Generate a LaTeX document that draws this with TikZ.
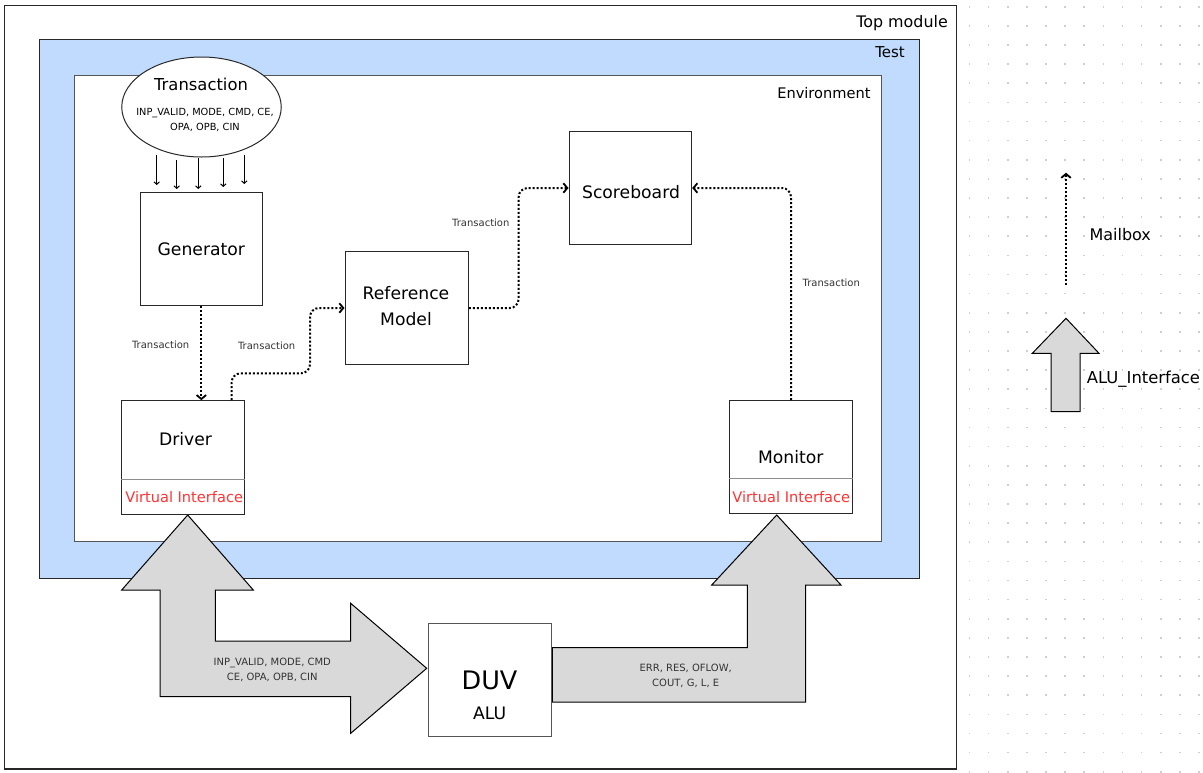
\documentclass[tikz,border=0pt]{standalone}
\usepackage{fontspec}
\setmainfont{DejaVu Sans}
\usetikzlibrary{shapes.geometric,arrows.meta,calc}
\definecolor{testblue}{RGB}{192,219,253}
\definecolor{arrowgray}{RGB}{217,217,217}
\definecolor{boxline}{RGB}{40,40,40}
\definecolor{envline}{RGB}{85,85,85}
\definecolor{labelgray}{RGB}{51,51,51}
\definecolor{vired}{RGB}{255,51,51}
\definecolor{griddot}{RGB}{205,205,220}
\definecolor{divline}{RGB}{140,140,140}
\begin{document}
\begin{tikzpicture}[x=1pt,y=-1pt,
  blockbox/.style={draw=boxline, line width=1pt, fill=white, inner sep=0pt},
  lbl/.style={inner sep=0pt, text=black},
  blocktxt/.style={lbl, font=\fontsize{17.2}{26.5}\selectfont, align=center},
  smalltxt/.style={inner sep=0pt, text=labelgray, font=\fontsize{10}{14.6}\selectfont, align=center},
  vitxt/.style={inner sep=0pt, text=vired, font=\fontsize{14.6}{17}\selectfont},
  mbox/.style={line width=2pt, dash pattern=on 2pt off 2pt, rounded corners=9pt,
     -{Straight Barb[length=4pt,width=9.5pt,line width=1.8pt]}},
  smallarr/.style={line width=1pt, draw=black, -{Straight Barb[length=2.5pt,width=5.5pt]}},
  bigarrow/.style={draw=black, line width=1pt, fill=arrowgray, line join=miter}
]
\useasboundingbox (0,0) rectangle (1203,772);

% background grid
\foreach \i in {0,...,12}{\foreach \j in {0,...,40}{
  \fill[griddot] ({969.5+\i*19.125-0.8},{6.7+\j*19.125-0.8}) rectangle ++(1.6,1.6);}}

% containers
\draw[draw=boxline, line width=1.2pt, fill=white] (4.7,5.3) rectangle (956.7,769);
\draw[draw=boxline, line width=1pt, fill=testblue] (39,39) rectangle (919,578);
\draw[draw=envline, line width=1pt, fill=white] (74,75) rectangle (881.7,541.7);

\node[lbl, anchor=base east, font=\fontsize{15.9}{19}\selectfont] (ltop) at (948,27.7) {Top module};
\node[lbl, anchor=east, font=\fontsize{15}{18}\selectfont] (ltest) at (905,51.7) {Test};
\node[lbl, anchor=east, font=\fontsize{14.6}{18}\selectfont] (lenv) at (870.7,93) {Environment};

% big interface arrows
\draw[bigarrow] (187.7,515) -- (253.3,590) -- (215.3,590) -- (215.3,641) -- (350.7,641)
  -- (350.7,603.3) -- (426.7,668.3) -- (350.7,733.3) -- (350.7,696.7) -- (160,696.7)
  -- (160,590) -- (121.7,590) -- cycle;
\draw[bigarrow] (776.7,515) -- (841,585) -- (805.7,585) -- (805.7,702) -- (552.3,702)
  -- (552.3,647.7) -- (747.3,647.7) -- (747.3,585) -- (711.7,585) -- cycle;
\node[smalltxt] (linp) at (272.3,670) {INP\_VALID, MODE, CMD\\CE, OPA, OPB, CIN};
\node[smalltxt] (lout) at (685.7,675.8) {ERR, RES, OFLOW,\\COUT, G, L, E};

% transaction ellipse
\node[ellipse, draw=boxline, line width=1pt, fill=white, minimum width=159.5pt,
  minimum height=100pt, inner sep=0pt] (trans) at (201.5,107) {};
\node[lbl, font=\fontsize{16.4}{20}\selectfont] (ttitle) at (201,84.7) {Transaction};
\node[lbl, font=\fontsize{9.8}{14.6}\selectfont, align=center] (tfields) at (205,120)
  {INP\_VALID, MODE, CMD, CE,\\OPA, OPB, CIN};

% blocks
\node[blockbox, minimum width=122.7pt, minimum height=112.7pt] (gen) at (201.35,248.65) {};
\node[blocktxt] (tgen) at (201.3,249.3) {Generator};
\node[blockbox, minimum width=123.3pt, minimum height=112.6pt] (ref) at (406.65,308) {};
\node[blocktxt] (tref) at (406,306) {Reference\\Model};
\node[blockbox, minimum width=122.7pt, minimum height=112.6pt] (sb) at (630.35,188) {};
\node[blocktxt] (tsb) at (631,191.7) {Scoreboard};
\node[blockbox, minimum width=122.6pt, minimum height=113.3pt] (drv) at (183,457.35) {};
\draw[divline, line width=1pt] (drv.west |- 0,479.3) -- (drv.east |- 0,479.3);
\node[blocktxt] (tdrv) at (185.5,439) {Driver};
\node[vitxt] (vidrv) at (184.2,496.7) {Virtual Interface};
\node[blockbox, minimum width=123.4pt, minimum height=112.6pt] (mon) at (791,457) {};
\draw[divline, line width=1pt] (mon.west |- 0,478.7) -- (mon.east |- 0,478.7);
\node[blocktxt] (tmon) at (790.8,456.7) {Monitor};
\node[vitxt] (vimon) at (791.3,496.7) {Virtual Interface};
\node[blockbox, draw=envline, minimum width=122.7pt, minimum height=113.4pt] (duv) at (489.65,680) {};
\node[lbl, font=\fontsize{25.5}{30}\selectfont] (tduv) at (489.5,680) {DUV};
\node[lbl, font=\fontsize{17.2}{20}\selectfont] (talu) at (489.7,713.3) {ALU};

% transaction field arrows
\foreach \x/\ya/\yb in {156.7/155/185, 176.7/160/189, 198.3/158/189, 223.3/158/187, 244.3/155/184}{
  \draw[smallarr] (\x,\ya) -- (\x,\yb);}

% mailbox connectors
\coordinate (k1) at (310,373.3);
\draw[mbox] (gen.south) -- (gen.south |- drv.north);
\draw[mbox] ([xshift=48.7pt]drv.north) |- (k1) |- (ref.west);
\draw[mbox] (ref.east) -| ($(ref.east)!0.5!(sb.west)$) |- (sb.west);
\draw[mbox] (mon.north) |- (sb.east);
\node[smalltxt] (l1) at (160.7,344.3) {Transaction};
\node[smalltxt] (l2) at (266.7,346) {Transaction};
\node[smalltxt] (l3) at (480.8,222.3) {Transaction};
\node[smalltxt] (l4) at (831.3,282.3) {Transaction};

% legend
\coordinate (mbA) at (1066,285);
\coordinate (mbB) at (1066,172.7);
\draw[mbox] (mbA) -- (mbB);
\node[lbl, anchor=base west, font=\fontsize{16}{19}\selectfont] (lmail) at (1089.3,240.7) {Mailbox};
\draw[bigarrow] (1066,318.3) -- (1099,353.3) -- (1080,353.3) -- (1080,411.7) -- (1051,411.7)
  -- (1051,353.3) -- (1032.3,353.3) -- cycle;
\node[lbl, anchor=base west, font=\fontsize{16.4}{19}\selectfont] (lalu) at (1086.7,383.3) {ALU\_Interface};
\end{tikzpicture}
\end{document}
